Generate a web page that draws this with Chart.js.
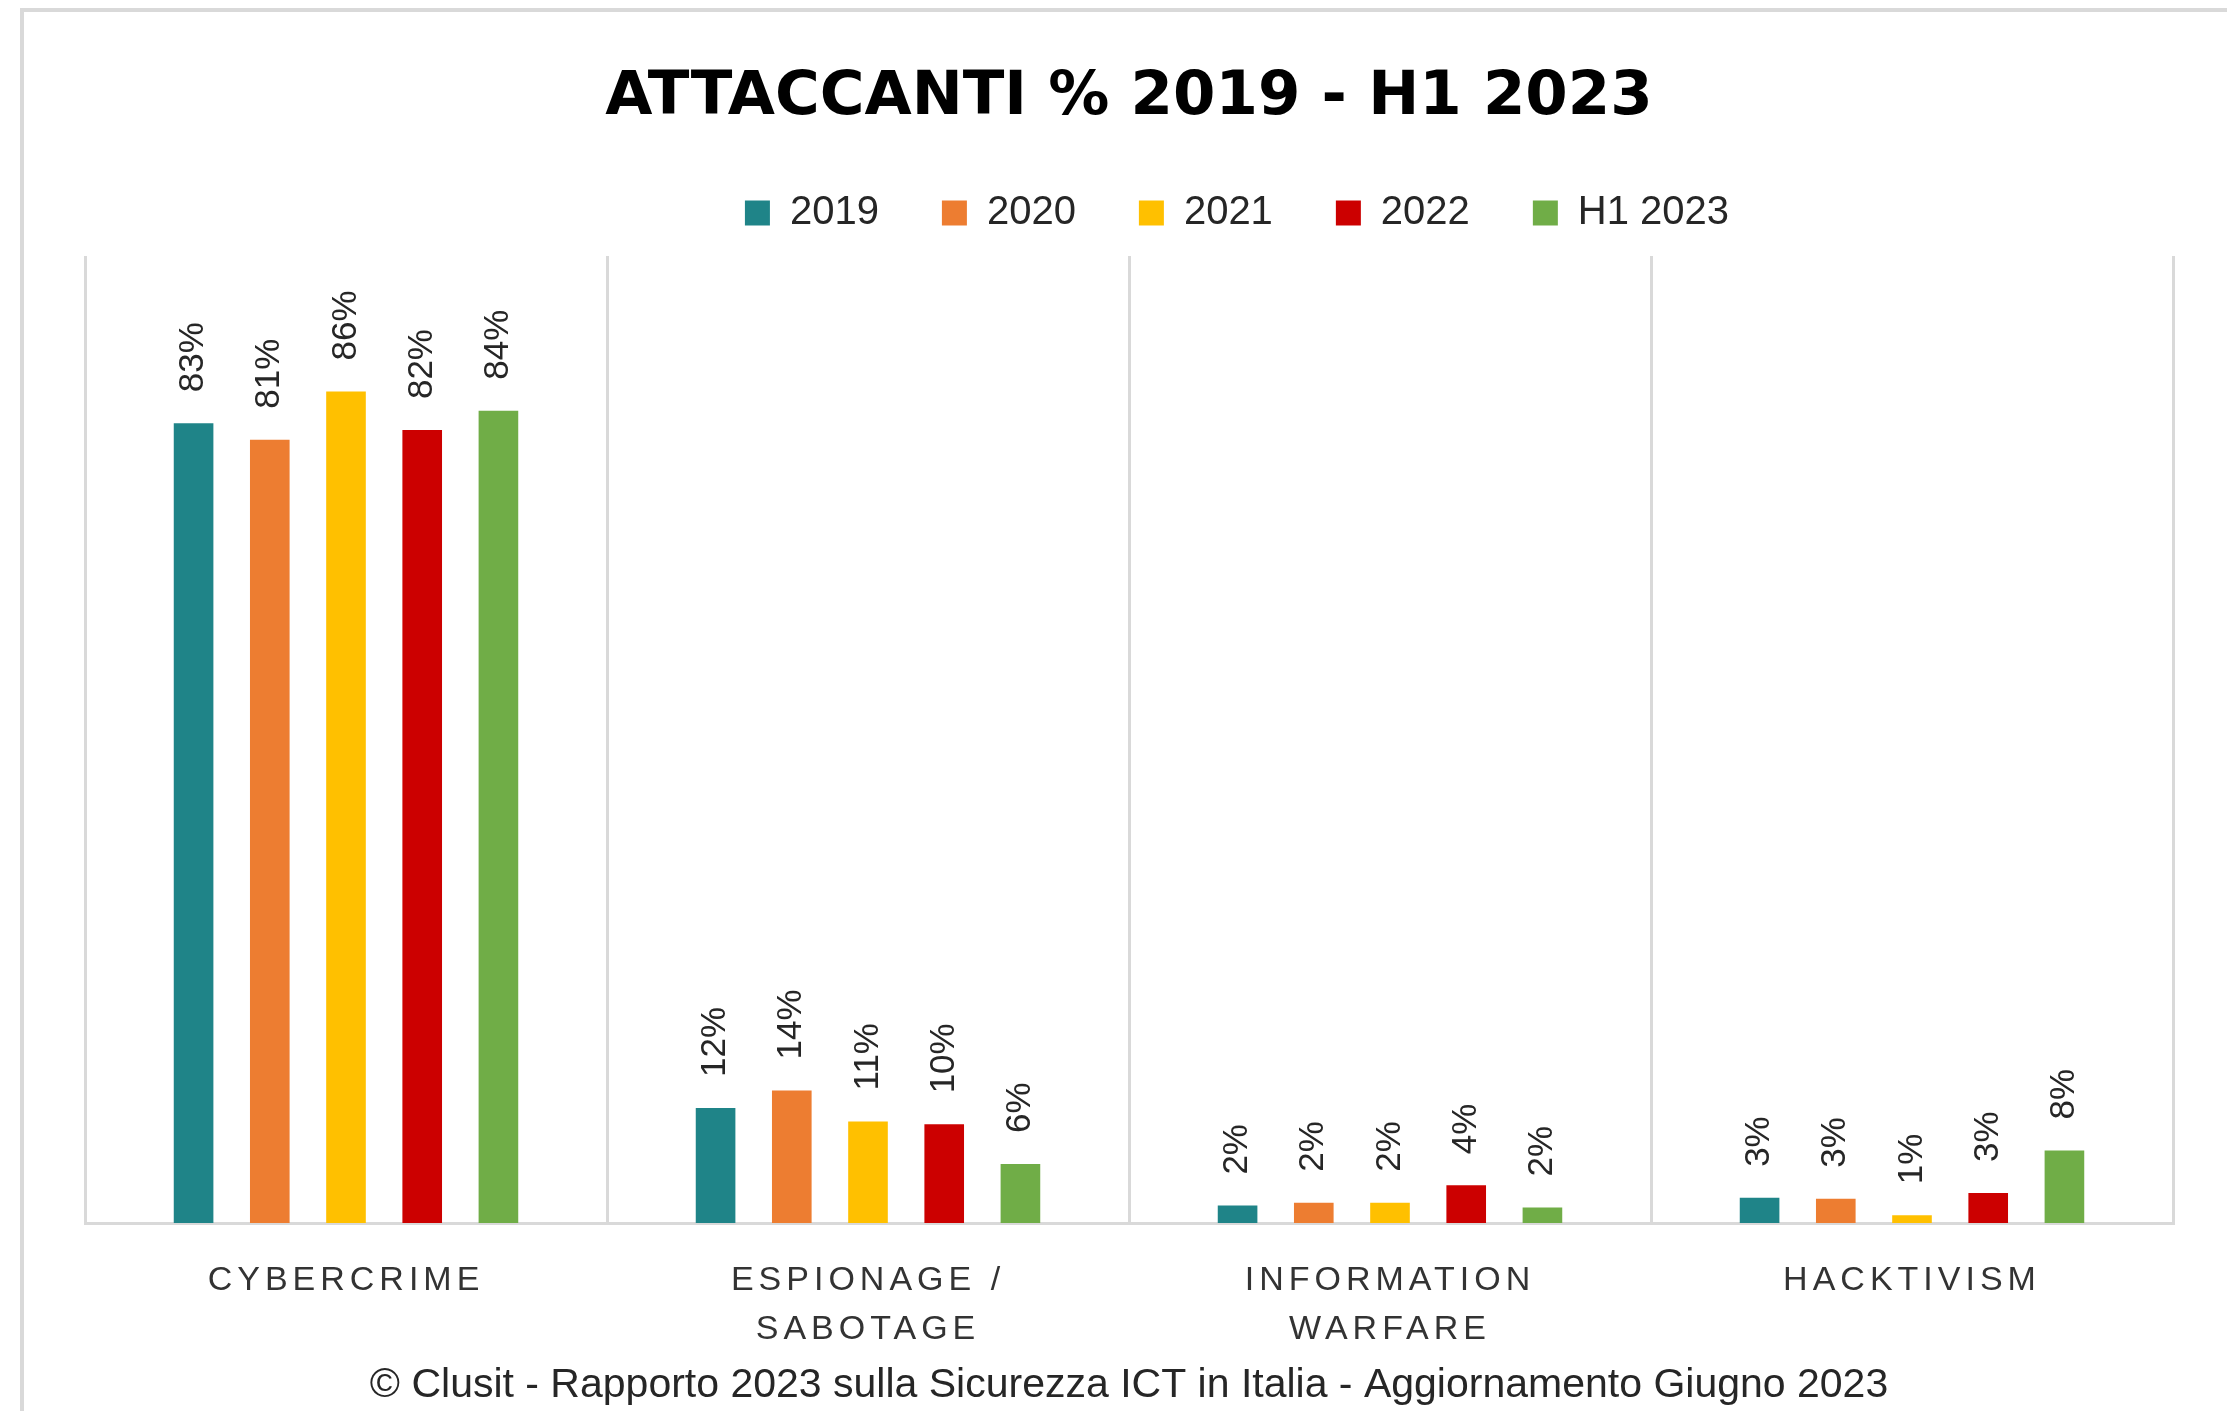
<!DOCTYPE html>
<html>
<head>
<meta charset="utf-8">
<title>Attaccanti % 2019 - H1 2023</title>
<script src="https://cdn.jsdelivr.net/npm/chart.js@4.4.0/dist/chart.umd.min.js"></script>
<style>
    html, body { margin: 0; padding: 0; background: #fff; }
    #frame {
        position: absolute; left: 20px; top: 8px; right: 0; bottom: 0;
        border-left: 4px solid #d9d9d9; border-top: 4px solid #d9d9d9;
    }
    #wrap { position: absolute; left: 0; top: 0; width: 2227px; height: 1411px; }
</style>
</head>
<body>
<div id="frame"></div>
<div id="wrap"><canvas id="attackersChart"></canvas></div>
<script>
// === DATI ===
const categories = ['CYBERCRIME', ['ESPIONAGE /', 'SABOTAGE'], ['INFORMATION', 'WARFARE'], 'HACKTIVISM'];
const seriesNames = ['2019', '2020', '2021', '2022', 'H1 2023'];
const values2019 = [82.7, 11.9, 1.8, 2.6];
const values2020 = [81.0, 13.7, 2.1, 2.5];
const values2021 = [86.0, 10.5, 2.1, 0.8];
const values2022 = [82.0, 10.2, 3.9, 3.1];
const valuesH12023 = [84.0, 6.1, 1.6, 7.5];
const seriesColors = ['#1F8488', '#ED7D31', '#FFC000', '#CC0000', '#70AD47'];

const seriesValues = [values2019, values2020, values2021, values2022, valuesH12023];

// === ETICHETTE SULLE BARRE (ruotate) ===
const barLabels = {
    id: 'barLabels',
    afterDatasetsDraw(chart) {
        const ctx = chart.ctx;
        ctx.save();
        ctx.font = '35px "Liberation Sans", Arial, sans-serif';
        ctx.fillStyle = '#262626';
        ctx.textAlign = 'left';
        ctx.textBaseline = 'middle';
        chart.data.datasets.forEach((ds, i) => {
            chart.getDatasetMeta(i).data.forEach((bar, j) => {
                ctx.save();
                ctx.translate(bar.x, bar.y - 31);
                ctx.rotate(-Math.PI / 2);
                ctx.fillText(Math.round(ds.data[j]) + '%', 0, 0);
                ctx.restore();
            });
        });
        ctx.restore();
        // le etichette delle categorie (ticks z:1) vengono disegnate dopo: spaziatura larga
        ctx.letterSpacing = '5px';
    },
    afterDraw(chart) {
        chart.ctx.letterSpacing = '0px';
    }
};

// === LEGENDA SPOSTATA (come nell'originale) ===
const legendShift = {
    id: 'legendShift',
    afterLayout(chart) {
        const lg = chart.legend;
        lg.left += 108; lg.right += 108;
        lg.top -= 13; lg.bottom -= 13;
    }
};

const ctx = document.getElementById('attackersChart').getContext('2d');
new Chart(ctx, {
    type: 'bar',
    data: {
        labels: categories,
        datasets: seriesNames.map((name, i) => ({
            label: name,
            data: seriesValues[i],
            backgroundColor: seriesColors[i],
            borderWidth: 0,
            categoryPercentage: 0.73,
            barPercentage: 0.52
        }))
    },
    options: {
        responsive: true,
        maintainAspectRatio: false,
        animation: false,
        layout: { padding: { left: 85, right: 54, top: 0, bottom: 0 } },
        plugins: {
            title: {
                display: true,
                text: 'ATTACCANTI % 2019 - H1 2023',
                color: '#000',
                font: { family: '"DejaVu Sans", sans-serif', size: 61, weight: 'bold', lineHeight: 1 },
                padding: { top: 68, bottom: 14 }
            },
            subtitle: {
                display: true,
                position: 'bottom',
                text: '© Clusit - Rapporto 2023 sulla Sicurezza ICT in Italia - Aggiornamento Giugno 2023',
                color: '#262626',
                font: { family: '"Liberation Sans", Arial, sans-serif', size: 41, lineHeight: 1 },
                padding: { top: 0, bottom: 5 }
            },
            legend: {
                position: 'top',
                labels: {
                    boxWidth: 25,
                    boxHeight: 25,
                    padding: 63,
                    color: '#262626',
                    font: { family: '"Liberation Sans", Arial, sans-serif', size: 40 }
                }
            },
            tooltip: { enabled: false }
        },
        scales: {
            x: {
                grid: { color: '#d9d9d9', lineWidth: 3, drawTicks: false, offset: true },
                border: { color: '#d9d9d9', width: 3 },
                ticks: {
                    z: 1,
                    padding: 33,
                    color: '#333',
                    font: { family: '"Liberation Sans", Arial, sans-serif', size: 34, lineHeight: 1.44 }
                },
                afterFit: scale => { scale.height = 142; }
            },
            y: {
                display: false,
                beginAtZero: true,
                min: 0,
                max: 100
            }
        }
    },
    plugins: [barLabels, legendShift]
});
</script>
</body>
</html>
